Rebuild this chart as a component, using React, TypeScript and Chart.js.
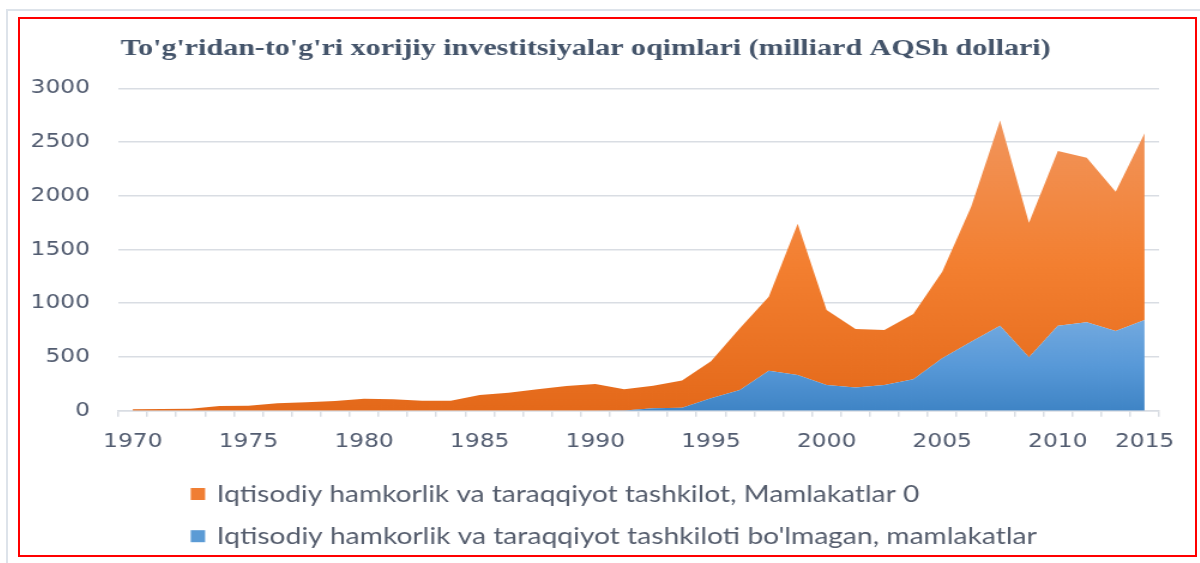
import React, { useEffect, useRef } from 'react';
import { Chart, registerables } from 'chart.js';

Chart.register(...registerables);

// ---------- DATA ----------
const categories: string[] = [
  '1970', '', '', '', '1975', '', '', '', '1980', '', '', '', '1985', '', '', '',
  '1990', '', '', '', '1995', '', '', '', '2000', '', '', '', '2005', '', '', '',
  '2010', '', '', '2015',
];

// Iqtisodiy hamkorlik va taraqqiyot tashkiloti bo'lmagan mamlakatlar (blue, bottom)
const nonOecdValues: number[] = [
  0, 0, 0, 0, 0, 0, 0, 0, 0, 0, 0, 0, 0, 0, 0, 0, 0,
  3, 22, 28, 115, 193, 372, 332, 239, 217, 239, 292, 487, 642, 791, 497, 791, 822, 742, 844,
];

// Iqtisodiy hamkorlik va taraqqiyot tashkiloti mamlakatlari (orange, stacked on top)
const oecdValues: number[] = [
  13, 16, 19, 44, 47, 69, 78, 90, 112, 106,
  93, 93, 146, 168, 199, 230, 248, 197, 210, 254,
  345, 574, 689, 1408, 698, 543, 512, 608, 807, 1256,
  1909, 1253, 1625, 1532, 1296, 1737,
];

const oecdLabel = 'Iqtisodiy hamkorlik va taraqqiyot tashkilot, Mamlakatlar 0';
const nonOecdLabel = "Iqtisodiy hamkorlik va taraqqiyot tashkiloti bo'lmagan, mamlakatlar";
const titleText = "To'g'ridan-to'g'ri xorijiy investitsiyalar oqimlari (milliard AQSh dollari)";

const yMin = 0;
const yMax = 3000;
const yStep = 500;

// ---------- STYLE ----------
const STRETCH = 1175 / 980;
const CANVAS_W = 980;
const CANVAS_H = 536;
const GRID = '#D9DDE3';
const TICK = '#525C70';
const TICK_FONT = { family: '"DejaVu Sans", Verdana, sans-serif', size: 19.5 };

const orangeStops = ['#F1955C', '#F37F30', '#E4691A'];
const blueStops = ['#72A9DF', '#5899D8', '#3F84C5'];
const orangeSwatch = '#F07E33';
const blueSwatch = '#5B9BD5';

function makeGradient(chart: any, topValue: number, stops: string[]) {
  const { ctx, chartArea, scales } = chart;
  if (!chartArea || !scales || !scales.y) return stops[1];
  const yBottom = scales.y.getPixelForValue(0);
  const yTop = scales.y.getPixelForValue(topValue);
  const g = ctx.createLinearGradient(0, yTop, 0, yBottom);
  stops.forEach((c, i) => g.addColorStop(i / (stops.length - 1), c));
  return g;
}

const titlePlugin = {
  id: 'fittedTitle',
  afterDraw(chart: any) {
    const ctx = chart.ctx;
    ctx.save();
    ctx.font = 'bold 23.5px "Liberation Serif", "Times New Roman", serif';
    ctx.fillStyle = '#44546A';
    ctx.textBaseline = 'alphabetic';
    ctx.textAlign = 'left';
    const w = ctx.measureText(titleText).width;
    const targetW = 930 / STRETCH;
    ctx.translate(100.7 / STRETCH, 36);
    ctx.scale(targetW / w, 1);
    ctx.fillText(titleText, 0, 0);
    ctx.restore();
  },
};

const legendPlugin = {
  id: 'fittedLegend',
  afterDraw(chart: any) {
    const ctx = chart.ctx;
    const ds = chart.data.datasets;
    const rows = [
      { label: ds[1].label, color: orangeSwatch, boxY: 469, baseline: 482.7, width: 586 },
      { label: ds[0].label, color: blueSwatch, boxY: 511.2, baseline: 525, width: 684 },
    ];
    ctx.save();
    rows.forEach((r) => {
      ctx.fillStyle = r.color;
      ctx.fillRect(142.4, r.boxY, 12, 12);
      ctx.save();
      ctx.font = '23px Lato, "Open Sans", sans-serif';
      ctx.fillStyle = '#555D6D';
      ctx.textBaseline = 'alphabetic';
      ctx.textAlign = 'left';
      const w = ctx.measureText(r.label).width;
      ctx.translate(164, r.baseline);
      ctx.scale(r.width / w, 1);
      ctx.fillText(r.label, 0, 0);
      ctx.restore();
    });
    ctx.restore();
  },
};

function FdiChart() {
  const canvasRef = useRef<HTMLCanvasElement | null>(null);

  useEffect(() => {
    if (!canvasRef.current) return;
    const orangeTop = Math.max(...oecdValues.map((v, i) => v + nonOecdValues[i]));
    const blueTop = Math.max(...nonOecdValues);
    const chart = new Chart(canvasRef.current, {
      type: 'line',
      data: {
        labels: categories,
        datasets: [
          {
            label: nonOecdLabel,
            data: nonOecdValues,
            fill: 'origin',
            borderWidth: 0,
            pointRadius: 0,
            tension: 0,
            backgroundColor: (c: any) => makeGradient(c.chart, blueTop, blueStops),
          },
          {
            label: oecdLabel,
            data: oecdValues,
            fill: '-1',
            borderWidth: 0,
            pointRadius: 0,
            tension: 0,
            backgroundColor: (c: any) => makeGradient(c.chart, orangeTop, orangeStops),
          },
        ],
      },
      options: {
        responsive: false,
        animation: false,
        layout: { padding: { top: 69.3, right: 30, bottom: 94.3, left: 0 } },
        plugins: {
          legend: { display: false },
          title: { display: false },
          tooltip: { enabled: false },
        },
        scales: {
          x: {
            type: 'category',
            offset: true,
            grid: {
              display: true,
              drawOnChartArea: false,
              drawTicks: true,
              tickLength: 6,
              color: GRID,
              lineWidth: 1.5,
              offset: true,
            },
            border: { display: true, color: GRID, width: 1.5 },
            ticks: {
              autoSkip: false,
              maxRotation: 0,
              minRotation: 0,
              padding: 13.6,
              color: TICK,
              font: TICK_FONT,
            },
            afterFit: (s: any) => { s.height = 50; },
          },
          y: {
            stacked: true,
            min: yMin,
            max: yMax,
            ticks: {
              stepSize: yStep,
              padding: 23.6,
              color: TICK,
              font: TICK_FONT,
              callback: (v: any) => String(v),
            },
            grid: { color: GRID, lineWidth: 1.5, drawTicks: false },
            border: { display: false },
            afterFit: (s: any) => { s.width = 82; },
          },
        },
      },
      plugins: [titlePlugin, legendPlugin],
    } as any);
    return () => chart.destroy();
  }, []);

  return (
    <canvas
      ref={canvasRef}
      width={CANVAS_W}
      height={CANVAS_H}
      style={{ width: CANVAS_W + 'px', height: CANVAS_H + 'px', display: 'block' }}
    />
  );
}

export default function App() {
  return (
    <div style={{ position: 'fixed', left: 0, top: 0, width: 1200, height: 563, background: '#ffffff', overflow: 'hidden' }}>
      <div
        style={{
          position: 'absolute', left: 6, top: 9, width: 1194, height: 554,
          borderLeft: '2px solid #DDE3EA', borderTop: '2px solid #DDE3EA', boxSizing: 'border-box',
        }}
      />
      <div
        style={{
          position: 'absolute', left: 18, top: 17, width: 1179, height: 540,
          border: '2px solid #FF0000', boxSizing: 'border-box',
        }}
      />
      <div
        style={{
          position: 'absolute', left: 20, top: 19, width: CANVAS_W, height: CANVAS_H,
          transform: `scaleX(${STRETCH})`, transformOrigin: '0 0',
        }}
      >
        <FdiChart />
      </div>
    </div>
  );
}
